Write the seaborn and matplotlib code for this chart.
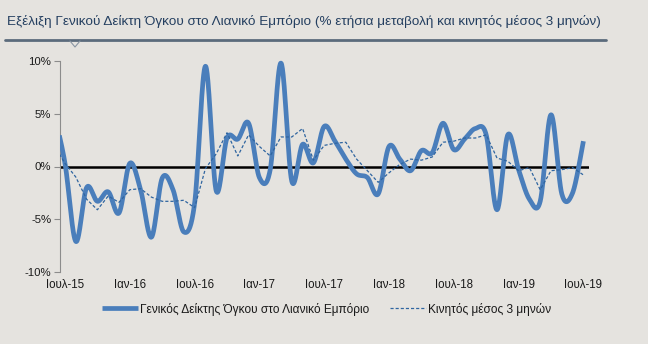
import numpy as np
import pandas as pd
import matplotlib
matplotlib.use("Agg")
import matplotlib.pyplot as plt
import seaborn as sns
from matplotlib.lines import Line2D
from matplotlib.patches import Rectangle

# ---------------- data ----------------
month_abbr = ["Ιαν", "Φεβ", "Μαρ", "Απρ", "Μαϊ", "Ιουν",
              "Ιουλ", "Αυγ", "Σεπ", "Οκτ", "Νοε", "Δεκ"]
# months from Ιουν-15 to Ιουλ-19 (first one lies just left of the axis)
months = [f"{month_abbr[(5 + k) % 12]}-{15 + (5 + k) // 12}" for k in range(50)]

# Γενικός Δείκτης Όγκου (% ετήσια μεταβολή)
index_values = [5.0, 0.3, -7.1, -2.0, -3.3, -2.4, -4.4, 0.3, -2.2, -6.7,
                -1.1, -2.2, -6.2, -3.5, 9.5, -2.3, 2.7, 2.6, 4.1, -1.05,
                -0.3, 9.8, -1.4, 2.1, 0.35, 3.8, 2.4, 0.7, -0.7, -1.05,
                -2.6, 1.9, 0.7, -0.4, 1.5, 1.3, 4.1, 1.6, 2.6, 3.6,
                3.0, -4.1, 3.0, -0.3, -3.1, -3.3, 4.9, -2.6, -2.5, 2.4]

# Κινητός μέσος 3 μηνών
ma_values = [2.0, 0.3, -1.0, -3.1, -4.1, -2.8, -3.4, -2.2, -2.1, -2.9,
             -3.3, -3.3, -3.2, -3.9, -0.2, 1.2, 3.2, 1.0, 3.0, 1.9,
             1.0, 2.8, 2.8, 3.6, 0.6, 2.0, 2.2, 2.3, 0.7, -0.4,
             -1.5, -0.6, 0.2, 0.7, 0.6, 0.9, 2.3, 2.4, 2.7, 2.7,
             3.0, 0.8, 0.5, -0.4, -0.1, -2.2, -0.4, -0.3, -0.1, -0.8]

tick_labels = ["Ιουλ-15", "Ιαν-16", "Ιουλ-16", "Ιαν-17", "Ιουλ-17",
               "Ιαν-18", "Ιουλ-18", "Ιαν-19", "Ιουλ-19"]
tick_months = ["Ιουλ-15", "Ιαν-16", "Ιουλ-16", "Ιαν-17", "Ιουλ-17",
               "Ιαν-18", "Ιουλ-18", "Ιαν-19", "Ιουλ-19"]
y_ticks = [-10, -5, 0, 5, 10]

series_label = "Γενικός Δείκτης Όγκου στο Λιανικό Εμπόριο"
ma_label = "Κινητός μέσος 3 μηνών"
title = ("Εξέλιξη Γενικού Δείκτη Όγκου στο Λιανικό Εμπόριο "
         "(% ετήσια μεταβολή και κινητός μέσος 3 μηνών)")

# ---------------- style ----------------
sns.set_theme(style="white")
plt.rcParams["font.family"] = ["Liberation Sans", "DejaVu Sans"]

BG = "#e5e3df"
MAIN = "#4a7ebb"
MA_C = "#2f65a0"
TXT = "#1a1a1a"

W, H = 648, 344
fig = plt.figure(figsize=(W / 100, H / 100), dpi=100, facecolor=BG)

# position of the categories: Ιουλ-15 is index 0
pos = np.arange(len(months)) - months.index("Ιουλ-15")


def smooth(xs, ys, n=30):
    """Excel-like smoothed line (Catmull-Rom Bezier) through the points."""
    xs = np.asarray(xs, float)
    ys = np.asarray(ys, float)
    P = np.column_stack([xs, ys])
    out = []
    m = len(P)
    t = np.linspace(0, 1, n, endpoint=False)[:, None]
    for i in range(m - 1):
        p0 = P[i - 1] if i > 0 else P[i]
        p1 = P[i]
        p2 = P[i + 1]
        p3 = P[i + 2] if i + 2 < m else P[i + 1]
        c1 = p1 + (p2 - p0) / 6.0
        c2 = p2 - (p3 - p1) / 6.0
        seg = ((1 - t) ** 3) * p1 + 3 * ((1 - t) ** 2) * t * c1 \
            + 3 * (1 - t) * t ** 2 * c2 + t ** 3 * p2
        out.append(seg)
    out.append(P[-1:])
    out = np.vstack(out)
    return out[:, 0], out[:, 1]


left_px, right_px = 59.6, 588.8
top_px, bot_px = 61, 272
ax = fig.add_axes([left_px / W, 1 - bot_px / H,
                   (right_px - left_px) / W, (bot_px - top_px) / H])
ax.set_facecolor(BG)

# zero line (horizontal axis)
ax.axhline(0, color="black", lw=1.8, zorder=1)

sx, sy = smooth(pos, index_values)
df_main = pd.DataFrame({"x": sx, "y": sy})
sns.lineplot(data=df_main, x="x", y="y", ax=ax, color=MAIN, lw=3.4,
             sort=False, estimator=None, zorder=3,
             solid_capstyle="butt", solid_joinstyle="round")

df_ma = pd.DataFrame({"x": pos, "y": ma_values})
sns.lineplot(data=df_ma, x="x", y="y", ax=ax, color=MA_C, lw=0.9,
             sort=False, estimator=None, zorder=4, linestyle=(0, (2.5, 1.6)))

ax.set_xlim(-0.5, 48.5)
ax.set_ylim(-10, 10)

clip = Rectangle((0, -0.05), 1, 1.1, transform=ax.transAxes)
for ln in ax.lines:
    if ln.get_color() != "black":
        ln.set_clip_path(clip)

ax.set_xticks([months.index(m) - months.index("Ιουλ-15") for m in tick_months])
ax.set_xticklabels(tick_labels)
ax.set_yticks(y_ticks)
ax.set_yticklabels([f"{v}%" for v in y_ticks])
ax.tick_params(axis="x", length=0, pad=5, labelsize=8.3, labelcolor=TXT)
ax.tick_params(axis="y", left=True, length=4, width=0.8, color="#8c8c8c",
               direction="out", pad=2, labelsize=8.2, labelcolor=TXT)
ax.set_xlabel("")
ax.set_ylabel("")
for s in ["top", "right", "bottom"]:
    ax.spines[s].set_visible(False)
ax.spines["left"].set_color("#8c8c8c")
ax.spines["left"].set_linewidth(0.8)
ax.grid(False)

# legend
handles = [Line2D([], [], color=MAIN, lw=3.4, solid_capstyle="butt"),
           Line2D([], [], color=MA_C, lw=0.9, linestyle=(0, (2.5, 1.6)))]
fig.legend(handles, [series_label, ma_label], loc="center",
           bbox_to_anchor=(326.5 / W, 1 - 309 / H), ncol=2, frameon=False,
           fontsize=8.6, handlelength=3.0, handletextpad=0.2,
           columnspacing=1.7, labelcolor=TXT)

# title + underline with small notch
fig.text(7 / W, 1 - 22 / H, title, fontsize=9.7, color="#243f60",
         ha="left", va="center")
fig.add_artist(Line2D([5 / W, 606 / W], [1 - 40 / H, 1 - 40 / H],
                      transform=fig.transFigure, color="#5b6b7c", lw=2))
fig.add_artist(Line2D([70 / W, 75 / W, 80 / W],
                      [1 - 41 / H, 1 - 47 / H, 1 - 41 / H],
                      transform=fig.transFigure, color="#8a96a3", lw=0.8))

fig.savefig("out.png", dpi=100, facecolor=BG)
